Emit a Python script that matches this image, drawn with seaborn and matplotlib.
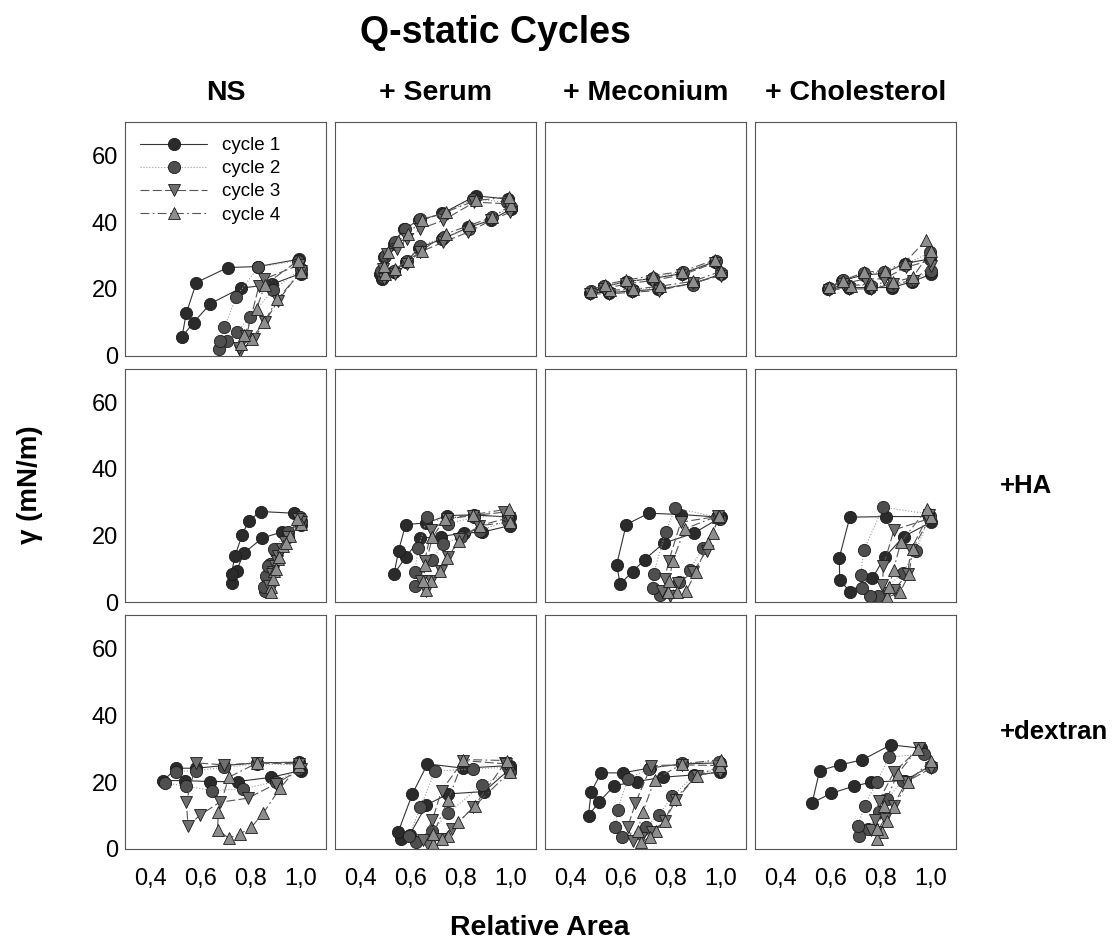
import numpy as np
import matplotlib.pyplot as plt
import pandas as pd
import seaborn as sns

# relative area (x) and surface tension (y), 4 cycles per panel
# row 1: no additive
ns_x = [[1.0, 0.885, 0.76, 0.64, 0.573, 0.527, 0.544, 0.584, 0.709, 0.83, 0.993],
        [1.0, 0.89, 0.796, 0.747, 0.707, 0.675, 0.677, 0.696, 0.743, 0.83, 0.99],
        [1.0, 0.909, 0.856, 0.813, 0.757, 0.753, 0.783, 0.833, 0.853, 0.993],
        [1.0, 0.907, 0.853, 0.804, 0.76, 0.773, 0.824, 0.857, 0.987]]
ns_y = [[24.6, 21.4, 20.2, 15.6, 9.9, 5.7, 12.7, 21.9, 26.4, 26.7, 28.9],
        [26.0, 19.7, 11.5, 7.1, 4.3, 2.1, 4.5, 8.5, 17.7, 26.5, 28.5],
        [25.4, 16.4, 10.0, 5.0, 1.3, 2.3, 5.9, 20.9, 22.9, 27.2],
        [25.2, 16.9, 10.0, 5.0, 3.5, 6.3, 14.0, 21.2, 28.4]]

serum_x = [[1.0, 0.92, 0.83, 0.727, 0.636, 0.583, 0.533, 0.487, 0.48, 0.493, 0.533, 0.573, 0.636, 0.727, 0.86, 0.99],
           [1.0, 0.925, 0.835, 0.735, 0.64, 0.585, 0.535, 0.49, 0.483, 0.497, 0.54, 0.58, 0.64, 0.735, 0.85, 0.985],
           [0.998, 0.92, 0.83, 0.73, 0.638, 0.585, 0.54, 0.495, 0.49, 0.505, 0.545, 0.585, 0.64, 0.73, 0.855, 0.99],
           [1.0, 0.925, 0.835, 0.74, 0.645, 0.59, 0.54, 0.5, 0.495, 0.51, 0.55, 0.59, 0.645, 0.74, 0.86, 0.993]]
serum_y = [[43.9, 40.6, 38.4, 34.9, 32.4, 28.1, 25.1, 22.9, 24.6, 29.6, 33.4, 37.9, 40.6, 42.6, 47.9, 46.9],
           [44.5, 41.5, 38.0, 35.5, 33.0, 28.5, 25.5, 23.5, 25.5, 30.0, 34.0, 38.0, 41.0, 42.5, 47.0, 46.0],
           [43.0, 40.5, 37.0, 34.0, 31.0, 27.5, 24.5, 23.0, 26.0, 30.5, 32.0, 35.0, 38.0, 40.5, 46.0, 45.5],
           [45.0, 41.5, 39.0, 36.5, 31.5, 28.5, 26.0, 24.5, 27.0, 31.0, 34.5, 36.5, 40.5, 43.0, 46.5, 47.5]]

mec_x = [[1.0, 0.887, 0.751, 0.647, 0.553, 0.48, 0.533, 0.623, 0.727, 0.847, 0.977],
         [1.0, 0.89, 0.755, 0.65, 0.555, 0.482, 0.535, 0.625, 0.73, 0.85, 0.98],
         [1.0, 0.89, 0.753, 0.648, 0.555, 0.48, 0.535, 0.623, 0.727, 0.847, 0.975],
         [1.0, 0.89, 0.757, 0.652, 0.557, 0.482, 0.537, 0.622, 0.73, 0.845, 0.975]]
mec_y = [[24.4, 21.6, 19.9, 19.4, 18.9, 18.9, 20.6, 22.2, 23.1, 24.6, 28.2],
         [24.8, 21.2, 20.3, 19.6, 19.2, 19.3, 21.0, 22.0, 23.4, 25.0, 28.5],
         [24.0, 21.8, 19.5, 19.0, 18.5, 18.5, 20.0, 21.5, 22.5, 24.2, 27.8],
         [25.3, 22.3, 20.8, 19.9, 19.6, 19.5, 21.3, 22.6, 24.0, 25.2, 28.7]]

chol_x = [[1.0, 0.926, 0.846, 0.759, 0.672, 0.591, 0.645, 0.732, 0.812, 0.895, 0.997],
          [1.0, 0.925, 0.845, 0.76, 0.675, 0.593, 0.648, 0.735, 0.815, 0.897, 0.997],
          [1.0, 0.93, 0.85, 0.762, 0.675, 0.593, 0.65, 0.738, 0.815, 0.9, 0.997],
          [1.0, 0.928, 0.85, 0.762, 0.68, 0.595, 0.65, 0.735, 0.818, 0.895, 0.98]]
chol_y = [[24.4, 22.2, 20.4, 20.4, 20.4, 20.1, 22.4, 24.2, 24.6, 27.6, 29.0],
          [25.5, 22.5, 21.0, 21.0, 21.0, 20.3, 22.8, 24.8, 25.0, 27.2, 31.0],
          [27.0, 22.5, 21.5, 20.0, 20.0, 19.8, 21.5, 23.0, 23.0, 26.5, 28.5],
          [31.4, 23.5, 22.0, 21.5, 21.0, 20.6, 22.5, 25.0, 25.5, 27.8, 34.6]]

# row 2: +HA
ns_ha_x = [[1.0, 0.923, 0.847, 0.773, 0.744, 0.727, 0.724, 0.737, 0.767, 0.793, 0.84, 0.973],
           [1.0, 0.95, 0.9, 0.878, 0.865, 0.857, 0.855, 0.86, 0.87, 0.893, 0.947, 0.995],
           [1.0, 0.95, 0.925, 0.905, 0.89, 0.88, 0.875, 0.885, 0.897, 0.91, 0.935, 0.99],
           [1.0, 0.955, 0.93, 0.91, 0.895, 0.882, 0.88, 0.89, 0.9, 0.915, 0.94, 0.985]]
ns_ha_y = [[23.3, 21.0, 19.3, 14.7, 9.5, 5.7, 8.5, 13.8, 20.3, 24.5, 27.2, 26.7],
           [24.5, 19.5, 15.0, 11.5, 7.5, 3.5, 4.5, 8.0, 11.0, 16.0, 21.0, 25.5],
           [24.0, 19.5, 16.0, 12.5, 9.0, 4.0, 5.0, 8.5, 11.0, 14.0, 18.0, 25.0],
           [23.5, 20.0, 17.0, 13.0, 9.5, 4.5, 3.0, 7.0, 10.0, 13.5, 17.7, 25.0]]

serum_ha_x = [[0.997, 0.884, 0.815, 0.721, 0.64, 0.581, 0.535, 0.553, 0.581, 0.664, 0.747, 0.853, 0.997],
              [0.99, 0.877, 0.8, 0.728, 0.687, 0.617, 0.617, 0.631, 0.668, 0.751, 0.853, 0.99],
              [0.991, 0.875, 0.795, 0.751, 0.72, 0.684, 0.664, 0.644, 0.657, 0.684, 0.747, 0.851, 0.971],
              [0.997, 0.877, 0.795, 0.747, 0.717, 0.684, 0.661, 0.651, 0.66, 0.688, 0.737, 0.851, 0.991]]
serum_ha_y = [[23.0, 21.0, 20.8, 19.7, 19.2, 13.5, 8.5, 15.5, 23.3, 23.8, 26.0, 26.2, 25.5],
              [24.5, 21.5, 19.5, 17.5, 12.7, 5.0, 9.0, 16.2, 25.5, 23.5, 25.5, 26.0],
              [25.3, 23.0, 19.0, 13.5, 9.5, 6.5, 3.5, 6.5, 12.5, 21.7, 25.0, 26.0, 27.0],
              [24.0, 23.0, 18.5, 13.3, 9.5, 6.3, 3.7, 6.5, 11.3, 19.5, 25.0, 26.3, 28.0]]

mec_ha_x = [[1.0, 0.892, 0.772, 0.696, 0.649, 0.599, 0.585, 0.623, 0.713, 0.843, 0.996],
            [0.995, 0.929, 0.876, 0.833, 0.756, 0.729, 0.732, 0.78, 0.819, 0.983],
            [0.989, 0.943, 0.889, 0.829, 0.796, 0.767, 0.776, 0.793, 0.84, 0.99],
            [0.989, 0.969, 0.949, 0.9, 0.863, 0.827, 0.789, 0.793, 0.809, 0.856, 0.992]]
mec_ha_y = [[25.5, 20.7, 17.7, 12.8, 9.2, 5.5, 11.3, 23.3, 26.7, 26.3, 25.5],
            [25.0, 16.3, 9.7, 6.0, 2.2, 4.2, 8.5, 21.2, 28.3, 25.5],
            [25.0, 15.5, 9.0, 5.7, 2.0, 3.5, 7.0, 12.5, 24.0, 25.8],
            [25.5, 20.7, 17.7, 9.0, 3.5, 3.0, 3.0, 6.5, 12.5, 22.0, 26.0]]

chol_ha_x = [[1.0, 0.891, 0.816, 0.767, 0.677, 0.637, 0.635, 0.677, 0.82, 0.993],
             [0.995, 0.94, 0.887, 0.789, 0.757, 0.727, 0.72, 0.733, 0.809, 0.987],
             [0.991, 0.92, 0.907, 0.853, 0.824, 0.807, 0.811, 0.853, 0.99],
             [1.0, 0.927, 0.913, 0.877, 0.827, 0.833, 0.851, 0.88, 0.984]]
chol_ha_y = [[24.0, 19.7, 13.5, 7.3, 3.2, 6.7, 13.3, 25.5, 25.7, 25.7],
             [26.0, 15.3, 8.8, 2.0, 2.0, 4.2, 8.2, 15.7, 28.5, 26.5],
             [26.3, 15.7, 8.5, 3.7, 2.8, 5.3, 11.0, 21.7, 25.0],
             [25.7, 16.0, 8.5, 3.0, 1.5, 4.5, 9.7, 18.0, 28.0]]

# row 3: +dextran
ns_dex_x = [[1.0, 0.883, 0.749, 0.637, 0.537, 0.453, 0.504, 0.584, 0.693, 0.827, 0.993],
            [0.993, 0.9, 0.769, 0.647, 0.544, 0.46, 0.504, 0.584, 0.696, 0.827, 0.993],
            [1.0, 0.9, 0.789, 0.677, 0.6, 0.551, 0.544, 0.584, 0.696, 0.827, 0.993],
            [0.993, 0.917, 0.851, 0.803, 0.757, 0.713, 0.669, 0.671, 0.713, 0.827, 0.993]]
ns_dex_y = [[23.5, 21.5, 20.2, 20.2, 20.5, 20.5, 24.2, 24.2, 25.0, 25.8, 26.0],
            [24.0, 20.2, 18.0, 17.5, 18.8, 19.8, 23.2, 23.5, 24.5, 25.5, 25.2],
            [24.0, 19.5, 15.2, 14.0, 10.2, 7.0, 14.2, 25.8, 25.2, 25.8, 25.5],
            [25.0, 18.2, 10.8, 6.5, 4.5, 3.2, 5.8, 11.0, 21.5, 25.8, 26.0]]

serum_dex_x = [[0.997, 0.893, 0.751, 0.664, 0.597, 0.561, 0.551, 0.608, 0.668, 0.811, 0.997],
               [0.997, 0.884, 0.751, 0.688, 0.621, 0.595, 0.64, 0.697, 0.848, 0.99],
               [0.977, 0.851, 0.764, 0.717, 0.671, 0.651, 0.688, 0.724, 0.811, 0.98],
               [0.997, 0.857, 0.791, 0.751, 0.724, 0.691, 0.691, 0.751, 0.811, 0.984]]
serum_dex_y = [[24.0, 17.2, 16.5, 13.2, 4.2, 3.0, 5.0, 16.5, 25.5, 24.2, 25.0],
               [23.2, 19.2, 10.8, 5.5, 2.2, 4.0, 12.5, 23.3, 24.0, 24.5],
               [25.8, 12.5, 6.0, 3.0, 1.2, 2.8, 8.8, 17.5, 26.5, 25.5],
               [23.2, 13.0, 8.0, 4.0, 3.0, 1.5, 4.5, 14.8, 26.8, 26.5]]

mec_dex_x = [[0.996, 0.892, 0.769, 0.665, 0.576, 0.516, 0.473, 0.483, 0.523, 0.609, 0.719, 0.847, 0.996],
             [0.993, 0.892, 0.807, 0.753, 0.7, 0.607, 0.58, 0.589, 0.629, 0.713, 0.847, 0.993],
             [0.996, 0.903, 0.823, 0.776, 0.727, 0.683, 0.649, 0.629, 0.66, 0.723, 0.847, 0.99],
             [0.996, 0.905, 0.816, 0.776, 0.74, 0.716, 0.683, 0.669, 0.689, 0.736, 0.847, 0.999]]
mec_dex_y = [[23.0, 22.2, 21.5, 20.2, 19.0, 14.2, 10.0, 17.0, 22.8, 22.8, 24.3, 25.5, 25.8],
             [24.0, 22.0, 15.8, 10.2, 6.5, 3.5, 6.5, 11.8, 21.0, 24.0, 25.8, 26.2],
             [23.2, 22.0, 14.8, 8.5, 5.2, 3.2, 2.5, 6.5, 13.8, 25.0, 25.2, 25.0],
             [24.8, 22.0, 15.0, 8.5, 5.5, 3.5, 2.0, 5.5, 11.0, 20.8, 25.5, 26.8]]

chol_dex_x = [[1.0, 0.896, 0.76, 0.693, 0.603, 0.527, 0.557, 0.637, 0.727, 0.84, 0.96],
              [1.0, 0.887, 0.827, 0.793, 0.749, 0.713, 0.709, 0.736, 0.784, 0.833, 0.971],
              [1.0, 0.9, 0.851, 0.816, 0.784, 0.76, 0.776, 0.793, 0.853, 0.953],
              [1.0, 0.907, 0.853, 0.824, 0.807, 0.784, 0.787, 0.813, 0.867, 0.947]]
chol_dex_y = [[25.0, 20.5, 20.0, 18.8, 16.7, 13.8, 23.5, 25.2, 26.7, 31.2, 30.2],
              [24.5, 20.5, 15.0, 11.0, 6.0, 4.0, 7.0, 13.0, 20.0, 27.5, 28.5],
              [24.2, 20.0, 13.0, 9.0, 5.0, 5.8, 8.8, 14.5, 23.0, 30.2],
              [26.5, 20.0, 12.5, 8.5, 5.2, 3.0, 6.0, 13.0, 22.5, 30.0]]

col_titles = ['NS', '+ Serum', '+ Meconium', '+ Cholesterol']
row_titles = ['', '+HA', '+dextran']
cycle_names = ['cycle 1', 'cycle 2', 'cycle 3', 'cycle 4']
x_ticks = [0.4, 0.6, 0.8, 1.0]
x_ticklabels = ['0,4', '0,6', '0,8', '1,0']
y_ticks = [0, 20, 40, 60]

panels = [[(ns_x, ns_y), (serum_x, serum_y), (mec_x, mec_y), (chol_x, chol_y)],
          [(ns_ha_x, ns_ha_y), (serum_ha_x, serum_ha_y), (mec_ha_x, mec_ha_y), (chol_ha_x, chol_ha_y)],
          [(ns_dex_x, ns_dex_y), (serum_dex_x, serum_dex_y), (mec_dex_x, mec_dex_y), (chol_dex_x, chol_dex_y)]]

sns.set_style('white')
plt.rcParams['font.family'] = ['Liberation Sans', 'DejaVu Sans']
plt.rcParams['text.color'] = 'black'
plt.rcParams['xtick.labelcolor'] = 'black'
plt.rcParams['ytick.labelcolor'] = 'black'

markers = ['o', 'o', 'v', '^']
faces = ['#2b2b2b', '#4f4f4f', '#6f6f6f', '#8e8e8e']
line_styles = ['-', ':', (0, (8, 3)), (0, (8, 3, 1.5, 3))]
line_cols = ['#333333', '#9a9a9a', '#555555', '#555555']

fig, axs = plt.subplots(3, 4, figsize=(11.13, 9.41), dpi=100, sharex=True, sharey=True)
fig.subplots_adjust(left=0.1123, right=0.859, top=0.8703, bottom=0.0978,
                    wspace=0.045, hspace=0.056)

for r in range(3):
    for c in range(4):
        ax = axs[r, c]
        px, py = panels[r][c]
        for k in range(4):
            df = pd.DataFrame({'area': px[k], 'gamma': py[k]})
            extra = {'label': cycle_names[k]} if (r == 0 and c == 0) else {}
            sns.lineplot(data=df, x='area', y='gamma', sort=False, estimator=None, ax=ax,
                         color=line_cols[k], linestyle=line_styles[k], linewidth=0.8,
                         marker=markers[k], markersize=8.8, markerfacecolor=faces[k],
                         markeredgecolor='#1a1a1a', markeredgewidth=0.6, **extra)
        ax.set_xlim(0.3, 1.1)
        ax.set_ylim(0, 70)
        ax.set_xticks(x_ticks)
        ax.set_xticklabels(x_ticklabels)
        ax.set_yticks(y_ticks)
        ax.set_xlabel('')
        ax.set_ylabel('')
        ax.tick_params(direction='in', length=4, width=0.8, color='#555555',
                       labelcolor='black', labelsize=17)
        ax.tick_params(axis='x', pad=14)
        ax.tick_params(axis='y', pad=5)
        for s in ax.spines.values():
            s.set_color('#555555')
            s.set_linewidth(0.8)
        if r == 0:
            ax.set_title(col_titles[c], fontsize=20.5, fontweight='bold', pad=16, color='black')

leg = axs[0, 0].legend(loc='upper left', frameon=False, fontsize=13.5, handlelength=3.6,
                       labelspacing=0.32, borderaxespad=0.4, handletextpad=0.8)

fig.text(0.445, 0.965, 'Q-static Cycles', ha='center', va='center', fontsize=27,
         fontweight='bold', color='black')
for r in range(1, 3):
    box = axs[r, 3].get_position()
    fig.text(0.8985, (box.y0 + box.y1) / 2, row_titles[r], ha='left', va='center',
             fontsize=18.5, fontweight='bold', color='black')
fig.text(0.027, 0.485, 'γ (mN/m)', ha='center', va='center', rotation=90,
         fontsize=20, fontweight='bold', color='black')
fig.text(0.485, 0.014, 'Relative Area', ha='center', va='center', fontsize=20.5,
         fontweight='bold', color='black')

plt.savefig('out.png', dpi=100)
